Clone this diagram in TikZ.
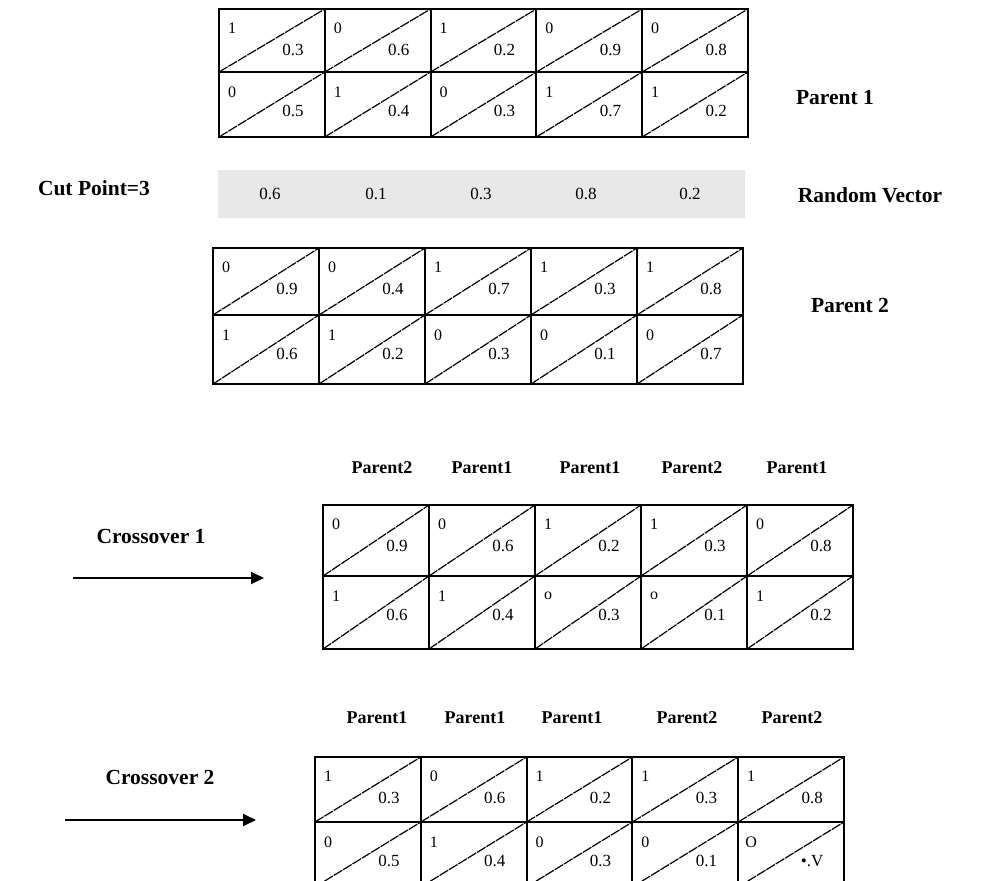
\documentclass[tikz,border=0pt]{standalone}
\usepackage{fontspec}
\setmainfont{Liberation Serif}
\usetikzlibrary{arrows.meta}
\tikzset{
  gridline/.style={draw=black, line width=1.9pt},
  diagline/.style={draw=black, line width=1.2pt, dash pattern=on 10pt off 1pt},
  bit/.style={inner sep=0pt, font=\fontsize{16}{16}\selectfont},
  val/.style={inner sep=0pt, font=\fontsize{17}{17}\selectfont},
  biglabel/.style={inner sep=0pt, font=\fontsize{21.5}{21.5}\selectfont\bfseries},
  header/.style={inner sep=0pt, font=\fontsize{18}{18}\selectfont\bfseries},
  rvval/.style={inner sep=0pt, font=\fontsize{17}{17}\selectfont},
  arrowline/.style={draw=black, line width=2pt, -{Triangle[length=13pt,width=12pt]}},
}
% #1 name, #2 left x, #3 column width, #4 top y, #5 mid y, #6 bottom y, #7 top list, #8 bottom list
\newcommand\cellgrid[8]{%
  \foreach \bits/\val [count=\i] in {#7} {
    \pgfmathsetmacro\xa{#2+(\i-1)*#3}
    \pgfmathsetmacro\xb{\xa+#3}
    \draw[gridline] (\xa,#4) rectangle (\xb,#5);
    \draw[diagline] (\xa,#5) -- (\xb,#4);
    \node[bit] (#1-t\i-b) at (\xa+13,#4+19) {\bits};
    \node[val] (#1-t\i-v) at (\xa+74,#4+41) {\val};
  }
  \foreach \bits/\val [count=\i] in {#8} {
    \pgfmathsetmacro\xa{#2+(\i-1)*#3}
    \pgfmathsetmacro\xb{\xa+#3}
    \draw[gridline] (\xa,#5) rectangle (\xb,#6);
    \draw[diagline] (\xa,#6) -- (\xb,#5);
    \node[bit] (#1-b\i-b) at (\xa+13,#5+20) {\bits};
    \node[val] (#1-b\i-v) at (\xa+74,#5+39) {\val};
  }
}
\begin{document}
\begin{tikzpicture}[x=1pt,y=-1pt]
\useasboundingbox (0,0) rectangle (983,881);
\clip (0,0) rectangle (983,881);

% Parent 1
\cellgrid{pa}{219}{105.8}{9}{72}{137}{1/0.3,0/0.6,1/0.2,0/0.9,0/0.8}{0/0.5,1/0.4,0/0.3,1/0.7,1/0.2}
\node[biglabel] (lp1) at (835,98) {Parent 1};

% Random vector
\fill[gray!18] (218,170) rectangle (745,218);
\foreach \v/\x [count=\k] in {0.6/270,0.1/376,0.3/481,0.8/586,0.2/690}
  \node[rvval] (rv\k) at (\x,194) {\v};
\node[biglabel] (lcut) at (94,188) {Cut Point=3};
\node[biglabel] (lrv) at (870,195) {Random Vector};

% Parent 2
\cellgrid{pb}{213}{106}{248}{315}{384}{0/0.9,0/0.4,1/0.7,1/0.3,1/0.8}{1/0.6,1/0.2,0/0.3,0/0.1,0/0.7}
\node[biglabel] (lp2) at (850,305) {Parent 2};

% Crossover 1
\foreach \t/\x [count=\k] in {Parent2/382,Parent1/482,Parent1/590,Parent2/692,Parent1/797}
  \node[header] (ha\k) at (\x,468) {\t};
\cellgrid{ca}{323}{106}{505}{576}{649}{0/0.9,0/0.6,1/0.2,1/0.3,0/0.8}{1/0.6,1/0.4,o/0.3,o/0.1,1/0.2}
\node[biglabel] (lc1) at (151,536) {Crossover 1};
\coordinate (a1s) at (73,578);
\coordinate (a1e) at (264,578);
\draw[arrowline] (a1s) -- (a1e);

% Crossover 2
\foreach \t/\x [count=\k] in {Parent1/377,Parent1/475,Parent1/572,Parent2/687,Parent2/792}
  \node[header] (hb\k) at (\x,718) {\t};
\cellgrid{cb}{315}{105.8}{757}{822}{887}{1/0.3,0/0.6,1/0.2,1/0.3,1/0.8}{0/0.5,1/0.4,0/0.3,0/0.1,O/•.V}
\node[biglabel] (lc2) at (160,777) {Crossover 2};
\coordinate (a2s) at (65,820);
\coordinate (a2e) at (256,820);
\draw[arrowline] (a2s) -- (a2e);
\end{tikzpicture}
\end{document}
